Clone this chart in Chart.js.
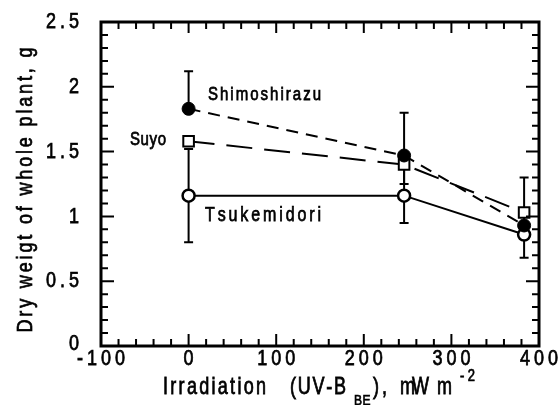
<!DOCTYPE html>
<html><head><meta charset="utf-8">
<script src="https://cdn.jsdelivr.net/npm/chart.js@4/dist/chart.umd.min.js"></script>
<style>html,body{margin:0;padding:0;background:#fff}#wrap{width:560px;height:405px}</style>
</head><body><div id="wrap"><canvas id="c" width="560" height="405"></canvas></div>
<script>
const irradiation = [0, 246, 383];
const shimoshirazu = [1.83, 1.47, 0.93];
const shimoshirazuErrUp = [0.29, 0.33, 0];
const shimoshirazuErrDown = [0, 0, 0];
const suyo = [1.58, 1.40, 1.03];
const suyoErrUp = [0, 0, 0.27];
const suyoErrDown = [0, 0.15, 0];
const tsukemidori = [1.16, 1.16, 0.86];
const tsukemidoriErrUp = [0.36, 0.21, 0.18];
const tsukemidoriErrDown = [0.36, 0.21, 0.18];
const xTickValues = [-100, 0, 100, 200, 300, 400];
const xTickLabels = ['-100', '0', '100', '200', '300', '400'];
const yTickValues = [0, 0.5, 1, 1.5, 2, 2.5];
const yTickLabels = ['0', '0.5', '1', '1.5', '2', '2.5'];
const seriesNames = ['Shimoshirazu', 'Suyo', 'Tsukemidori'];
const xTitleParts = ['Irradiation', '(UV-B', 'BE', '),', 'mW', 'm', '-2'];
const yTitle = 'Dry weigt of whole plant, g';

const FONT = '"Liberation Sans", Arial, Helvetica, sans-serif';

function spaced(ctx, str, x, y, o) {
  ctx.save();
  ctx.font = o.size + 'px ' + FONT;
  ctx.fillStyle = '#000';
  ctx.strokeStyle = '#000';
  ctx.lineWidth = o.stroke == null ? 0.6 : o.stroke;
  const chars = [...str];
  const ws = chars.map(c => ctx.measureText(c).width);
  const nat = ws.reduce((a, b) => a + b, 0);
  let ls = o.ls || 0;
  if (o.width != null && chars.length > 1) ls = (o.width - nat) / (chars.length - 1);
  const total = nat + ls * (chars.length - 1);
  ctx.translate(x, y);
  if (o.rot) ctx.rotate(o.rot);
  let start = 0;
  if (o.align === 'center') start = -total / 2;
  else if (o.align === 'right') start = -total;
  ctx.scale(1, o.sy || 1);
  ctx.textBaseline = 'middle';
  ctx.textAlign = 'left';
  let cx = start;
  chars.forEach((c, i) => {
    ctx.fillText(c, cx, 0);
    if (ctx.lineWidth > 0) ctx.strokeText(c, cx, 0);
    cx += ws[i] + ls;
  });
  ctx.restore();
  return total;
}

const pairs = arr => irradiation.map((x, i) => ({x: x, y: arr[i]}));

const errorBars = {
  id: 'errorBars',
  beforeDatasetsDraw(chart) {
    const {ctx, scales: {x, y}} = chart;
    const sets = [
      [shimoshirazu, shimoshirazuErrUp, shimoshirazuErrDown],
      [suyo, suyoErrUp, suyoErrDown],
      [tsukemidori, tsukemidoriErrUp, tsukemidoriErrDown]
    ];
    ctx.save();
    ctx.strokeStyle = '#000';
    ctx.lineWidth = 2;
    sets.forEach(([vals, ups, downs]) => {
      vals.forEach((v, i) => {
        const px = x.getPixelForValue(irradiation[i]);
        const mid = y.getPixelForValue(v);
        [[ups[i], 1], [downs[i], -1]].forEach(([e, s]) => {
          if (!e) return;
          const end = y.getPixelForValue(v + s * e);
          ctx.beginPath();
          ctx.moveTo(px, mid); ctx.lineTo(px, end);
          ctx.moveTo(px - 4.5, end); ctx.lineTo(px + 4.5, end);
          ctx.stroke();
        });
      });
    });
    ctx.restore();
  }
};

const frame = {
  id: 'frame',
  afterDraw(chart) {
    const {ctx, chartArea: a, scales: {x, y}} = chart;
    ctx.save();
    ctx.strokeStyle = '#000';
    ctx.lineWidth = 2;
    for (let v = x.min; v <= x.max + 1e-6; v += 20) {
      const px = x.getPixelForValue(v);
      const major = Math.abs(v % 100) < 1e-6;
      ctx.beginPath();
      ctx.moveTo(px, a.bottom); ctx.lineTo(px, a.bottom - (major ? 12 : 7));
      ctx.moveTo(px, a.top); ctx.lineTo(px, a.top + (major ? 11 : 7));
      ctx.stroke();
    }
    for (let k = 0; k <= 25; k++) {
      const py = y.getPixelForValue(k / 10);
      const major = k % 5 === 0;
      const L = major ? 13 : 7;
      ctx.beginPath();
      ctx.moveTo(a.left, py); ctx.lineTo(a.left + L, py);
      ctx.moveTo(a.right, py); ctx.lineTo(a.right - L, py);
      ctx.stroke();
    }
    ctx.lineWidth = 3;
    ctx.strokeRect(a.left, a.top, a.right - a.left, a.bottom - a.top);
    ctx.restore();

    xTickValues.forEach((v, i) => {
      spaced(ctx, xTickLabels[i], x.getPixelForValue(v), 359, {size: 18, sy: 1.25, ls: 4, align: 'center'});
    });
    yTickValues.forEach((v, i) => {
      spaced(ctx, yTickLabels[i], 79, y.getPixelForValue(v) - (v === 0 ? 2 : 0), {size: 18, sy: 1.25, ls: 4, align: 'right'});
    });

    spaced(ctx, xTitleParts[0], 163, 388, {size: 18, sy: 1.3, width: 103});
    spaced(ctx, xTitleParts[1], 290, 388, {size: 18, sy: 1.3, width: 56});
    spaced(ctx, xTitleParts[2], 354, 401, {size: 12, sy: 1.2, ls: 0.5});
    spaced(ctx, xTitleParts[3], 373, 388, {size: 18, sy: 1.3, width: 14});
    spaced(ctx, xTitleParts[4], 400, 388, {size: 18, sy: 1.3, width: 29});
    spaced(ctx, xTitleParts[5], 437, 388, {size: 18, sy: 1.3});
    spaced(ctx, xTitleParts[6], 460, 377, {size: 13, sy: 1.2, width: 15});
    spaced(ctx, yTitle, 26, 190, {size: 18, sy: 1.2, width: 285, rot: -Math.PI / 2, align: 'center'});

    spaced(ctx, seriesNames[0], 208, 95, {size: 15, sy: 1.25, width: 113});
    spaced(ctx, seriesNames[1], 130, 140, {size: 15, sy: 1.25, width: 36});
    spaced(ctx, seriesNames[2], 205, 215, {size: 16, sy: 1.25, width: 116});
  }
};

new Chart(document.getElementById('c'), {
  type: 'scatter',
  data: {
    datasets: [
      {label: seriesNames[0], data: pairs(shimoshirazu), showLine: true, borderColor: '#000', borderWidth: 2,
       borderDash: [12, 8], pointStyle: 'circle', pointRadius: 6.5, pointBackgroundColor: '#000', pointBorderColor: '#000', pointBorderWidth: 1},
      {label: seriesNames[1], data: pairs(suyo), showLine: true, borderColor: '#000', borderWidth: 2,
       borderDash: [26, 12], pointStyle: 'rect', pointRadius: 7.5, pointBackgroundColor: '#fff', pointBorderColor: '#000', pointBorderWidth: 2},
      {label: seriesNames[2], data: pairs(tsukemidori), showLine: true, borderColor: '#000', borderWidth: 2,
       pointStyle: 'circle', pointRadius: 6, pointBackgroundColor: '#fff', pointBorderColor: '#000', pointBorderWidth: 2.5}
    ]
  },
  options: {
    responsive: false,
    devicePixelRatio: 1,
    animation: false,
    layout: {padding: {left: 0, top: 22, right: 21, bottom: 0}},
    plugins: {legend: {display: false}, tooltip: {enabled: false}},
    scales: {
      x: {type: 'linear', min: -100, max: 400, grid: {display: false}, border: {display: false},
          ticks: {display: false}, afterFit: s => { s.height = 59; }},
      y: {type: 'linear', min: 0, max: 2.5, grid: {display: false}, border: {display: false},
          ticks: {display: false}, afterFit: s => { s.width = 101; }}
    }
  },
  plugins: [errorBars, frame]
});
</script>
</body></html>
